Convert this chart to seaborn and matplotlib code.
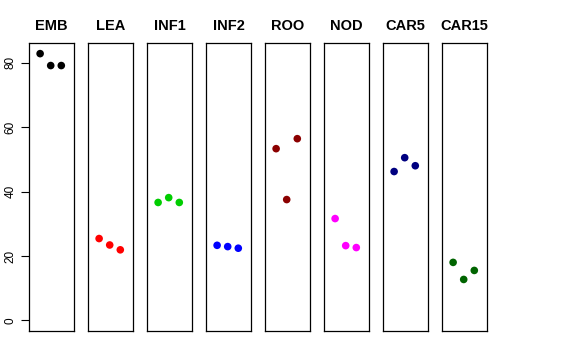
import numpy as np
import pandas as pd
import matplotlib.pyplot as plt
import seaborn as sns

# Values, three replicates per tissue
tissues = ['EMB', 'LEA', 'INF1', 'INF2', 'ROO', 'NOD', 'CAR5', 'CAR15']
values = {
    'EMB': [82.8, 79.1, 79.1],
    'LEA': [25.4, 23.4, 21.9],
    'INF1': [36.6, 38.1, 36.6],
    'INF2': [23.3, 22.9, 22.4],
    'ROO': [53.3, 37.5, 56.4],
    'NOD': [31.6, 23.2, 22.6],
    'CAR5': [46.2, 50.5, 48.0],
    'CAR15': [18.0, 12.7, 15.5],
}
colors = ['black', 'red', '#00CD00', 'blue', '#8B0000', 'magenta', '#000080', '#006400']

rows = []
for t in tissues:
    for i, v in enumerate(values[t]):
        rows.append({'tissue': t, 'rep': i + 1, 'value': v})
df = pd.DataFrame(rows)

sns.set_style('ticks', {'axes.edgecolor': 'black', 'text.color': 'black',
                        'ytick.color': 'black', 'axes.labelcolor': 'black'})
plt.rcParams['font.family'] = ['Liberation Sans', 'DejaVu Sans']

fig, axes = plt.subplots(1, 8, figsize=(5.76, 3.6), dpi=100, sharey=True)
fig.subplots_adjust(left=29/576, right=487/576, bottom=1-331/360, top=1-43/360, wspace=0.311)

for ax, t, c in zip(axes, tissues, colors):
    sub = df[df['tissue'] == t]
    sns.scatterplot(data=sub, x='rep', y='value', ax=ax, color=c, s=30,
                    edgecolor='none', legend=False)
    ax.set_xlim(-0.05, 4.2)
    ax.set_ylim(-3.3, 86.1)
    ax.set_xticks([])
    ax.set_xlabel('')
    ax.set_ylabel('')
    ax.set_title(t, fontsize=10.5, fontweight='bold', pad=9, color='black')
    for s in ax.spines.values():
        s.set_color('black')
        s.set_linewidth(0.9)
        s.set_visible(True)
    if ax is not axes[0]:
        ax.tick_params(axis='y', left=False, labelleft=False)

axes[0].set_yticks([0, 20, 40, 60, 80])
axes[0].tick_params(axis='y', left=True, labelleft=True, length=6, width=0.8,
                    color='black', labelcolor='black', labelsize=8.5, pad=3)
for lab in axes[0].get_yticklabels():
    lab.set_rotation(90)
    lab.set_va('center')

fig.savefig('out.png', dpi=100)
